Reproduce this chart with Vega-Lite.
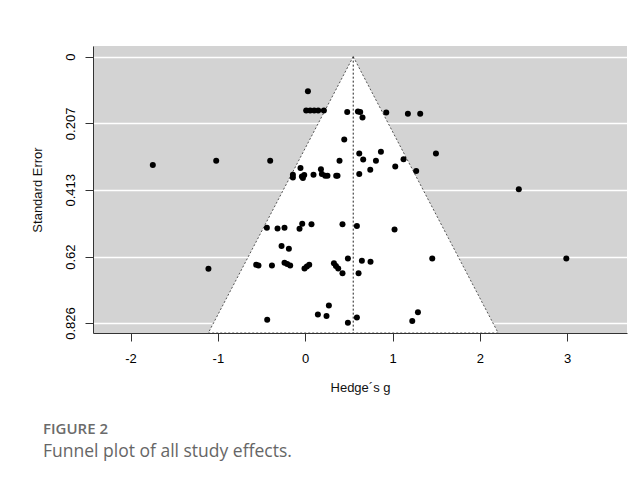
{
  "$schema": "https://vega.github.io/schema/vega-lite/v6.json",
  "width": 534,
  "height": 287,
  "autosize": {"type": "none"},
  "padding": {"left": 93, "top": 46, "right": 17, "bottom": 154},
  "background": "white",
  "view": {"fill": "#d3d3d3", "stroke": null},
  "config": {"font": "Liberation Sans"},
  "title": {
    "text": "FIGURE 2",
    "subtitle": "Funnel plot of all study effects.",
    "orient": "bottom",
    "anchor": "start",
    "frame": "group",
    "dx": -50,
    "offset": 28,
    "font": "Open Sans",
    "fontSize": 15,
    "fontWeight": 600,
    "color": "#6b6b6b",
    "subtitleFont": "Open Sans",
    "subtitleFontSize": 17.5,
    "subtitleColor": "#666666",
    "subtitlePadding": 6
  },
  "datasets": {
    "funnel": [
      {"se": 0, "lo": 0.55, "hi": 0.55},
      {"se": 0.857, "lo": -1.11, "hi": 2.21}
    ],
    "center": [
      {"g": 0.55, "top": 0, "bottom": 0.857}
    ],
    "pts": [
      {"g": -1.745, "se": 0.336}, {"g": -1.019, "se": 0.323}, {"g": -0.401, "se": 0.323},
      {"g": 0.031, "se": 0.107}, {"g": 0.011, "se": 0.167}, {"g": 0.057, "se": 0.167},
      {"g": 0.103, "se": 0.167}, {"g": 0.149, "se": 0.167}, {"g": 0.214, "se": 0.167},
      {"g": 0.481, "se": 0.172}, {"g": 0.604, "se": 0.170}, {"g": 0.630, "se": 0.172},
      {"g": 0.656, "se": 0.189}, {"g": 0.928, "se": 0.173}, {"g": 1.176, "se": 0.177},
      {"g": 1.317, "se": 0.177}, {"g": 0.447, "se": 0.257}, {"g": 1.497, "se": 0.300},
      {"g": 0.619, "se": 0.300}, {"g": 0.867, "se": 0.295}, {"g": 0.664, "se": 0.319},
      {"g": 0.810, "se": 0.323}, {"g": 0.393, "se": 0.323}, {"g": 1.126, "se": 0.318},
      {"g": 1.031, "se": 0.341}, {"g": 0.745, "se": 0.351}, {"g": 0.619, "se": 0.364},
      {"g": 1.271, "se": 0.355}, {"g": -0.054, "se": 0.345}, {"g": 0.180, "se": 0.349},
      {"g": -0.141, "se": 0.366}, {"g": -0.141, "se": 0.375}, {"g": -0.038, "se": 0.372},
      {"g": -0.011, "se": 0.367}, {"g": -0.026, "se": 0.376}, {"g": 0.095, "se": 0.366},
      {"g": 0.191, "se": 0.364}, {"g": 0.229, "se": 0.369}, {"g": 0.255, "se": 0.369},
      {"g": 0.355, "se": 0.369}, {"g": 0.370, "se": 0.369}, {"g": -0.439, "se": 0.531},
      {"g": -0.317, "se": 0.533}, {"g": -0.237, "se": 0.531}, {"g": -0.065, "se": 0.534},
      {"g": -0.034, "se": 0.518}, {"g": 0.072, "se": 0.520}, {"g": 0.427, "se": 0.520},
      {"g": 0.592, "se": 0.525}, {"g": 1.023, "se": 0.536}, {"g": -0.271, "se": 0.587},
      {"g": -0.187, "se": 0.596}, {"g": -0.561, "se": 0.645}, {"g": -0.535, "se": 0.648},
      {"g": -0.381, "se": 0.648}, {"g": -0.237, "se": 0.639}, {"g": -0.206, "se": 0.643},
      {"g": -0.172, "se": 0.648}, {"g": -0.008, "se": 0.657}, {"g": 0.019, "se": 0.651},
      {"g": 0.046, "se": 0.645}, {"g": 0.329, "se": 0.641}, {"g": 0.352, "se": 0.649},
      {"g": 0.378, "se": 0.657}, {"g": 0.427, "se": 0.672}, {"g": 0.489, "se": 0.626},
      {"g": 0.611, "se": 0.672}, {"g": 0.649, "se": 0.633}, {"g": 0.748, "se": 0.636},
      {"g": 1.455, "se": 0.626}, {"g": -0.435, "se": 0.816}, {"g": 0.145, "se": 0.800},
      {"g": 0.244, "se": 0.804}, {"g": 0.271, "se": 0.772}, {"g": 0.489, "se": 0.825},
      {"g": 0.592, "se": 0.809}, {"g": 1.226, "se": 0.820}, {"g": 1.291, "se": 0.793},
      {"g": -1.108, "se": 0.658}, {"g": 2.446, "se": 0.411}, {"g": 2.990, "se": 0.626}
    ]
  },
  "layer": [
    {
      "data": {"name": "funnel"},
      "mark": {"type": "area", "orient": "horizontal", "fill": "white", "stroke": "#555555", "strokeWidth": 1, "strokeDash": [2, 2]},
      "encoding": {
        "y": {
          "field": "se", "type": "quantitative",
          "scale": {"domain": [-0.033, 0.857], "reverse": true, "nice": false, "zero": false},
          "axis": {
            "title": "Standard Error",
            "values": [0, 0.207, 0.413, 0.62, 0.826],
            "labelExpr": "datum.value == 0 ? '0' : format(datum.value, '.3~f')",
            "labelAngle": -90,
            "labelAlign": "center",
            "labelBaseline": "bottom",
            "labelPadding": 8,
            "labelFontSize": 13,
            "labelColor": "#000000",
            "tickSize": 8,
            "tickColor": "#333333",
            "domainColor": "#333333",
            "grid": true,
            "gridColor": "white",
            "gridWidth": 1.5,
            "titleFontSize": 13,
            "titleFontWeight": "normal",
            "titleColor": "#111111",
            "titlePadding": 20,
            "zindex": 0
          }
        },
        "x": {
          "field": "lo", "type": "quantitative",
          "scale": {"domain": [-2.43, 3.685], "nice": false, "zero": false},
          "axis": {
            "title": "Hedge´s g",
            "values": [-2, -1, 0, 1, 2, 3],
            "labelExpr": "datum.value < 0 ? '-' + abs(datum.value) : '' + datum.value",
            "labelFontSize": 13,
            "labelColor": "#000000",
            "labelPadding": 11,
            "tickSize": 8,
            "tickColor": "#333333",
            "domainColor": "#333333",
            "grid": false,
            "titleFontSize": 13,
            "titleFontWeight": "normal",
            "titleColor": "#111111",
            "titlePadding": 16,
            "zindex": 1
          }
        },
        "x2": {"field": "hi"}
      }
    },
    {
      "data": {"name": "center"},
      "mark": {"type": "rule", "color": "#222222", "strokeWidth": 1, "strokeDash": [2, 2]},
      "encoding": {
        "x": {"field": "g", "type": "quantitative", "title": "Hedge´s g"},
        "y": {"field": "top", "type": "quantitative", "title": "Standard Error"},
        "y2": {"field": "bottom"}
      }
    },
    {
      "data": {"name": "pts"},
      "mark": {"type": "circle", "size": 36, "color": "black", "opacity": 1},
      "encoding": {
        "x": {"field": "g", "type": "quantitative", "title": "Hedge´s g"},
        "y": {"field": "se", "type": "quantitative", "title": "Standard Error"}
      }
    }
  ]
}
